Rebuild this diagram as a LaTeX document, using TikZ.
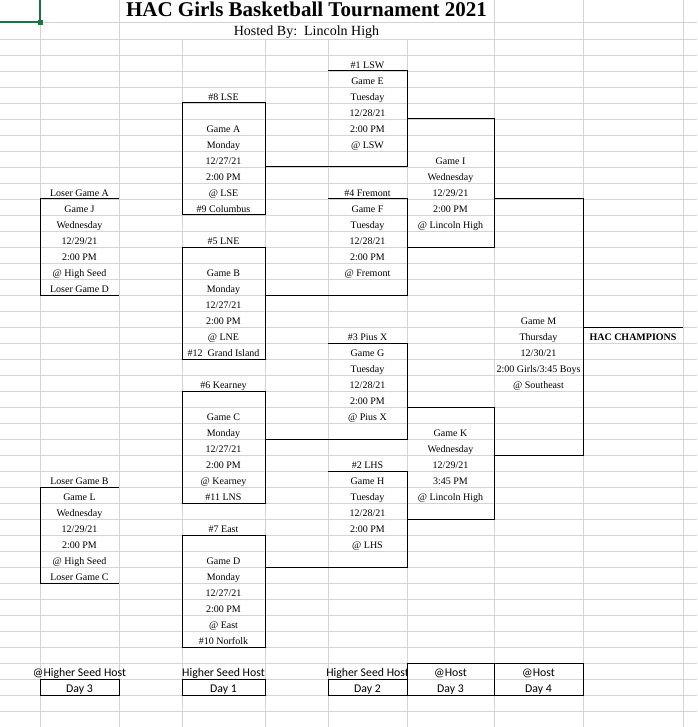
\documentclass[tikz,border=0pt]{standalone}
\usepackage{fontspec}
\setmainfont{Liberation Serif}
\newfontfamily\calfont{Carlito}
\usepackage{xcolor}
\definecolor{gridgray}{RGB}{212,212,212}
\definecolor{selgreen}{RGB}{30,113,69}
\tikzset{
  grid line/.style={draw=gridgray, line width=0.8pt},
  bracket/.style={draw=black, line width=1pt},
  cell/.style={anchor=base, inner sep=0pt, font=\fontsize{10}{12}\selectfont},
  foot/.style={anchor=base, inner sep=0pt, font=\calfont\fontsize{11.8}{14}\selectfont}
}

\begin{document}
\begin{tikzpicture}[x=1pt,y=-1pt]
\useasboundingbox (0,0) rectangle (697,727);
% sheet grid
\draw[grid line] (0,22) -- (697,22);
\foreach \y in {39,55,...,727} \draw[grid line] (0,\y) -- (697,\y);
\foreach \x in {40,119,494,583,683} \draw[grid line] (\x,0) -- (\x,727);
\foreach \x in {182,265,328,407} \draw[grid line] (\x,39) -- (\x,727);
% selected cell
\draw[selgreen, line width=2pt] (0,22) -- (40,22) -- (40,0);
\fill[selgreen] (38,20) rectangle (43,25);

% heading
\node[anchor=base, inner sep=0pt, font=\bfseries\fontsize{21}{24}\selectfont] (title) at (306.5,17) {HAC Girls Basketball Tournament 2021};
\node[anchor=base, inner sep=0pt, font=\fontsize{14}{16}\selectfont] (host) at (306.5,35.5) {Hosted By:\ \ Lincoln High};

% day 1 games
\draw[bracket] (182,103) rectangle (265,215);
\draw[bracket] (182,247) rectangle (265,359);
\draw[bracket] (182,391) rectangle (265,503);
\draw[bracket] (182,535) rectangle (265,647);
% day 2 games
\draw[bracket] (328,71) -- (407,71) -- (407,167) -- (265,167);
\draw[bracket] (328,199) -- (407,199) -- (407,295) -- (265,295);
\draw[bracket] (328,343) -- (407,343) -- (407,439) -- (265,439);
\draw[bracket] (328,471) -- (407,471) -- (407,567) -- (265,567);
% day 3 games
\draw[bracket] (407,119) -- (494,119) -- (494,247) -- (407,247);
\draw[bracket] (407,407) -- (494,407) -- (494,519) -- (407,519);
\draw[bracket] (119,199) -- (40,199) -- (40,295) -- (119,295);
\draw[bracket] (119,487) -- (40,487) -- (40,583) -- (119,583);
% final
\draw[bracket] (494,199) -- (583,199) -- (583,455) -- (494,455);
\draw[bracket] (583,327) -- (683,327);

% game A
\node[cell] (seed8) at (223.5,100.5) {\#8 LSE};
\node[cell] (gameA) at (223.5,132.5) {Game A};
\node[cell] (dayA) at (223.5,148.5) {Monday};
\node[cell] (dateA) at (223.5,164.5) {12/27/21};
\node[cell] (timeA) at (223.5,180.5) {2:00 PM};
\node[cell] (siteA) at (223.5,196.5) {@ LSE};
\node[cell] (seed9) at (223.5,212.5) {\#9 Columbus};
% game B
\node[cell] (seed5) at (223.5,244.5) {\#5 LNE};
\node[cell] (gameB) at (223.5,276.5) {Game B};
\node[cell] (dayB) at (223.5,292.5) {Monday};
\node[cell] (dateB) at (223.5,308.5) {12/27/21};
\node[cell] (timeB) at (223.5,324.5) {2:00 PM};
\node[cell] (siteB) at (223.5,340.5) {@ LNE};
\node[cell] (seed12) at (223.5,356.5) {\#12\ \ Grand Island};
% game C
\node[cell] (seed6) at (223.5,388.5) {\#6 Kearney};
\node[cell] (gameC) at (223.5,420.5) {Game C};
\node[cell] (dayC) at (223.5,436.5) {Monday};
\node[cell] (dateC) at (223.5,452.5) {12/27/21};
\node[cell] (timeC) at (223.5,468.5) {2:00 PM};
\node[cell] (siteC) at (223.5,484.5) {@ Kearney};
\node[cell] (seed11) at (223.5,500.5) {\#11 LNS};
% game D
\node[cell] (seed7) at (223.5,532.5) {\#7 East};
\node[cell] (gameD) at (223.5,564.5) {Game D};
\node[cell] (dayD) at (223.5,580.5) {Monday};
\node[cell] (dateD) at (223.5,596.5) {12/27/21};
\node[cell] (timeD) at (223.5,612.5) {2:00 PM};
\node[cell] (siteD) at (223.5,628.5) {@ East};
\node[cell] (seed10) at (223.5,644.5) {\#10 Norfolk};

% game E
\node[cell] (seed1) at (367.5,68.5) {\#1 LSW};
\node[cell] (gameE) at (367.5,84.5) {Game E};
\node[cell] (dayE) at (367.5,100.5) {Tuesday};
\node[cell] (dateE) at (367.5,116.5) {12/28/21};
\node[cell] (timeE) at (367.5,132.5) {2:00 PM};
\node[cell] (siteE) at (367.5,148.5) {@ LSW};
% game F
\node[cell] (seed4) at (367.5,196.5) {\#4 Fremont};
\node[cell] (gameF) at (367.5,212.5) {Game F};
\node[cell] (dayF) at (367.5,228.5) {Tuesday};
\node[cell] (dateF) at (367.5,244.5) {12/28/21};
\node[cell] (timeF) at (367.5,260.5) {2:00 PM};
\node[cell] (siteF) at (367.5,276.5) {@ Fremont};
% game G
\node[cell] (seed3) at (367.5,340.5) {\#3 Pius X};
\node[cell] (gameG) at (367.5,356.5) {Game G};
\node[cell] (dayG) at (367.5,372.5) {Tuesday};
\node[cell] (dateG) at (367.5,388.5) {12/28/21};
\node[cell] (timeG) at (367.5,404.5) {2:00 PM};
\node[cell] (siteG) at (367.5,420.5) {@ Pius X};
% game H
\node[cell] (seed2) at (367.5,468.5) {\#2 LHS};
\node[cell] (gameH) at (367.5,484.5) {Game H};
\node[cell] (dayH) at (367.5,500.5) {Tuesday};
\node[cell] (dateH) at (367.5,516.5) {12/28/21};
\node[cell] (timeH) at (367.5,532.5) {2:00 PM};
\node[cell] (siteH) at (367.5,548.5) {@ LHS};

% game I
\node[cell] (gameI) at (450.5,164.5) {Game I};
\node[cell] (dayI) at (450.5,180.5) {Wednesday};
\node[cell] (dateI) at (450.5,196.5) {12/29/21};
\node[cell] (timeI) at (450.5,212.5) {2:00 PM};
\node[cell] (siteI) at (450.5,228.5) {@ Lincoln High};
% game K
\node[cell] (gameK) at (450.5,436.5) {Game K};
\node[cell] (dayK) at (450.5,452.5) {Wednesday};
\node[cell] (dateK) at (450.5,468.5) {12/29/21};
\node[cell] (timeK) at (450.5,484.5) {3:45 PM};
\node[cell] (siteK) at (450.5,500.5) {@ Lincoln High};

% game J
\node[cell] (loserA) at (79.5,196.5) {Loser Game A};
\node[cell] (gameJ) at (79.5,212.5) {Game J};
\node[cell] (dayJ) at (79.5,228.5) {Wednesday};
\node[cell] (dateJ) at (79.5,244.5) {12/29/21};
\node[cell] (timeJ) at (79.5,260.5) {2:00 PM};
\node[cell] (siteJ) at (79.5,276.5) {@ High Seed};
\node[cell] (loserD) at (79.5,292.5) {Loser Game D};
% game L
\node[cell] (loserB) at (79.5,484.5) {Loser Game B};
\node[cell] (gameL) at (79.5,500.5) {Game L};
\node[cell] (dayL) at (79.5,516.5) {Wednesday};
\node[cell] (dateL) at (79.5,532.5) {12/29/21};
\node[cell] (timeL) at (79.5,548.5) {2:00 PM};
\node[cell] (siteL) at (79.5,564.5) {@ High Seed};
\node[cell] (loserC) at (79.5,580.5) {Loser Game C};

% game M
\node[cell] (gameM) at (538.5,324.5) {Game M};
\node[cell] (dayM) at (538.5,340.5) {Thursday};
\node[cell] (dateM) at (538.5,356.5) {12/30/21};
\node[cell] (timeM) at (538.5,372.5) {2:00 Girls/3:45 Boys};
\node[cell] (siteM) at (538.5,388.5) {@ Southeast};
\node[cell, font=\bfseries\fontsize{10}{12}\selectfont] (champ) at (633,340.5) {HAC CHAMPIONS};

% footer
\draw[bracket] (40,679) rectangle (119,695);
\draw[bracket] (182,679) rectangle (265,695);
\draw[bracket] (328,679) rectangle (407,695);
\draw[bracket] (407,663) rectangle (494,695);
\draw[bracket] (494,663) rectangle (583,695);
\node[foot] (hostJL) at (79.5,676.5) {@Higher Seed Host};
\node[foot] (dayJL) at (79.5,692.5) {Day 3};
\node[foot] (hostAD) at (223.5,676.5) {Higher Seed Host};
\node[foot] (dayAD) at (223.5,692.5) {Day 1};
\begin{scope}
\clip (265,663) rectangle (406.5,679);
\node[foot] (hostEH) at (367.5,676.5) {Higher Seed Host};
\end{scope}
\node[foot] (dayEH) at (367.5,692.5) {Day 2};
\node[foot] (hostIK) at (450.5,676.5) {@Host};
\node[foot] (dayIK) at (450.5,692.5) {Day 3};
\node[foot] (hostM) at (538.5,676.5) {@Host};
\node[foot] (dayM4) at (538.5,692.5) {Day 4};
\end{tikzpicture}
\end{document}
